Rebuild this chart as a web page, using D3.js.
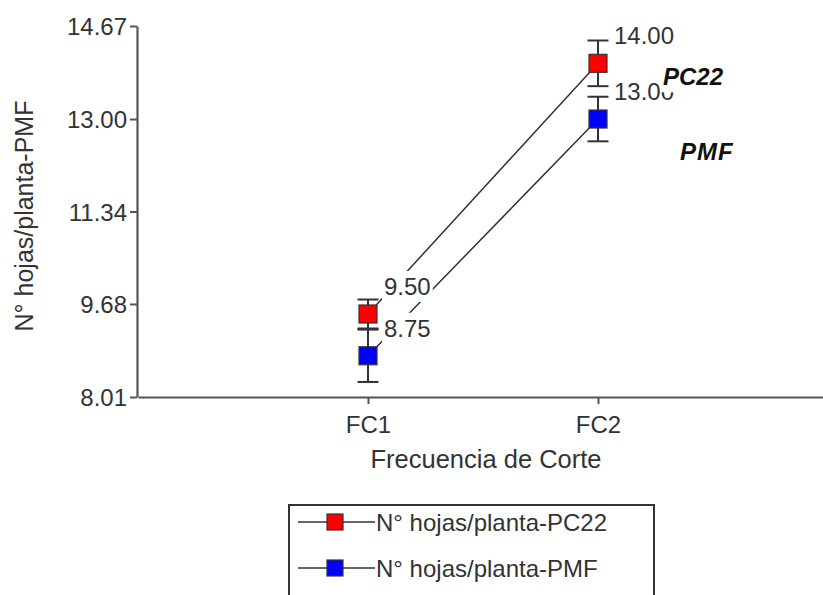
<!DOCTYPE html>
<html>
<head>
<meta charset="utf-8">
<script src="https://cdn.jsdelivr.net/npm/d3@7"></script>
<style>
  html, body { margin: 0; padding: 0; background: #fff; }
  svg { display: block; font-family: "Liberation Sans", Arial, sans-serif; }
</style>
</head>
<body>
<svg id="chart" width="823" height="595"></svg>
<script>
// Number of leaves per plant by cutting frequency, two varieties
const categories = ["FC1", "FC2"];
const pc22Means = [9.50, 14.00];
const pc22Errors = [0.26, 0.41];
const pmfMeans = [8.75, 13.00];
const pmfErrors = [0.47, 0.40];
const yTicks = [8.01, 9.68, 11.34, 13.00, 14.67];
const seriesNames = ["N° hojas/planta-PC22", "N° hojas/planta-PMF"];
const seriesTags = ["PC22", "PMF"];
const seriesColors = ["#ff0000", "#0000ff"];
const xTitle = "Frecuencia de Corte";
const yTitle = "N° hojas/planta-PMF";

const series = [
  { name: seriesNames[0], tag: seriesTags[0], color: seriesColors[0], means: pc22Means, errs: pc22Errors },
  { name: seriesNames[1], tag: seriesTags[1], color: seriesColors[1], means: pmfMeans, errs: pmfErrors }
];

const svg = d3.select("#chart");
const axisColor = "#555";
const inkColor = "#333";
const fontSize = 24;

const x = d3.scalePoint().domain(categories).range([138, 828]).padding(1);
const y = d3.scaleLinear().domain([8.01, 14.67]).range([397, 26]);

// Axes
const yAxis = svg.append("g")
  .attr("transform", `translate(${x.range()[0] - 1},0)`)
  .call(d3.axisLeft(y).tickValues(yTicks).tickFormat(d3.format(".2f")).tickSize(7).tickPadding(3).tickSizeOuter(0));
const xAxis = svg.append("g")
  .attr("transform", `translate(0,${y.range()[0]})`)
  .call(d3.axisBottom(x).tickSize(7).tickPadding(12).tickSizeOuter(0));
[yAxis, xAxis].forEach(g => {
  g.select(".domain").attr("stroke", axisColor).attr("stroke-width", 2.2);
  g.selectAll(".tick line").attr("stroke", axisColor).attr("stroke-width", 2);
  g.selectAll(".tick text").attr("fill", "#333").style("font-size", fontSize + "px")
    .style("font-family", '"Liberation Sans", Arial, sans-serif');
});
yAxis.selectAll(".tick text").attr("dy", "0.37em");

svg.append("text")
  .attr("x", 486).attr("y", 468)
  .attr("text-anchor", "middle")
  .attr("fill", "#333")
  .style("font-size", "25.5px")
  .text(xTitle);

svg.append("text")
  .attr("transform", "translate(33,216) rotate(-90)")
  .attr("text-anchor", "middle")
  .attr("fill", "#333")
  .style("font-size", "25px")
  .text(yTitle);

// Connecting lines
const line = d3.line().x(d => x(d.cat)).y(d => y(d.v));
series.forEach(s => {
  const pts = categories.map((c, i) => ({ cat: c, v: s.means[i] }));
  svg.append("path").datum(pts)
    .attr("d", line)
    .attr("fill", "none")
    .attr("stroke", inkColor)
    .attr("stroke-width", 1.5);
});

// Error bars
const capHalf = 10.5;
series.forEach(s => {
  categories.forEach((c, i) => {
    const cx = x(c);
    const hi = y(s.means[i] + s.errs[i]);
    const lo = y(s.means[i] - s.errs[i]);
    const g = svg.append("g").attr("stroke", inkColor).attr("stroke-width", 2);
    g.append("line").attr("x1", cx).attr("x2", cx).attr("y1", hi).attr("y2", lo);
    g.append("line").attr("x1", cx - capHalf).attr("x2", cx + capHalf).attr("y1", hi).attr("y2", hi);
    g.append("line").attr("x1", cx - capHalf).attr("x2", cx + capHalf).attr("y1", lo).attr("y2", lo);
  });
});

// Markers
const sq = 18;
series.forEach(s => {
  categories.forEach((c, i) => {
    svg.append("rect")
      .attr("x", x(c) - sq / 2).attr("y", y(s.means[i]) - sq / 2)
      .attr("width", sq).attr("height", sq)
      .attr("fill", s.color)
      .attr("stroke", inkColor).attr("stroke-width", 1.2);
  });
});

// Text with an opaque white backing box
function boxedText(tx, ty, str, opts) {
  const g = svg.append("g");
  const bg = g.append("rect").attr("fill", "#fff");
  const t = g.append("text")
    .attr("x", tx).attr("y", ty)
    .attr("fill", opts.fill || "#333")
    .style("font-size", (opts.size || fontSize) + "px")
    .style("font-weight", opts.weight || "normal")
    .style("font-style", opts.style || "normal")
    .style("letter-spacing", opts.spacing || "normal")
    .text(str);
  const b = t.node().getBBox();
  const p = opts.pad == null ? 2 : opts.pad;
  bg.attr("x", b.x - p).attr("y", b.y - p).attr("width", b.width + 2 * p).attr("height", b.height + 2 * p);
  return g;
}

// Value labels
series.forEach(s => {
  categories.forEach((c, i) => {
    boxedText(x(c) + 16, y(s.means[i]) - 19, d3.format(".2f")(s.means[i]), {});
  });
});

// Series tags beside the FC2 points
const lastCat = categories[categories.length - 1];
boxedText(x(lastCat) + 65, y(pc22Means[1]) + 22, seriesTags[0], { weight: "bold", style: "italic", fill: "#111" });
boxedText(x(lastCat) + 82, y(pmfMeans[1]) + 41, seriesTags[1], { weight: "bold", style: "italic", fill: "#111", spacing: "1px" });

// Legend
const legend = svg.append("g");
legend.append("rect")
  .attr("x", 289).attr("y", 505).attr("width", 365).attr("height", 130)
  .attr("fill", "#fff").attr("stroke", inkColor).attr("stroke-width", 2);
series.forEach((s, i) => {
  const ly = 522 + i * 46;
  legend.append("line")
    .attr("x1", 298).attr("x2", 375).attr("y1", ly).attr("y2", ly)
    .attr("stroke", inkColor).attr("stroke-width", 1.5);
  legend.append("rect")
    .attr("x", 335 - 8).attr("y", ly - 8).attr("width", 16).attr("height", 16)
    .attr("fill", s.color).attr("stroke", inkColor).attr("stroke-width", 1.2);
  legend.append("text")
    .attr("x", 376).attr("y", ly + 8.5)
    .attr("fill", "#333")
    .style("font-size", fontSize + "px")
    .text(s.name);
});
</script>
</body>
</html>
